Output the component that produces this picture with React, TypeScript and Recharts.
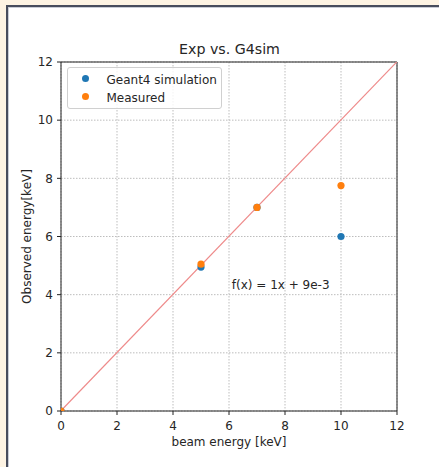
import {
  ScatterChart,
  Scatter,
  XAxis,
  YAxis,
  CartesianGrid,
  ReferenceLine,
  ReferenceArea,
  ReferenceDot,
  Legend,
} from "recharts";

// beam energy [keV] vs observed energy [keV]
const BEAM_ENERGY = [0, 5, 7, 10];
const G4SIM = [0, 4.95, 7.0, 6.0];
const MEASURED = [0, 5.05, 7.0, 7.75];
const TICKS = [0, 2, 4, 6, 8, 10, 12];
const FIT_X = [0, 12];
const FIT_Y = [0.009, 12.009];
const FIT_TEXT = "f(x) = 1x + 9e-3";
const FIT_TEXT_POS = { x: 6.1, y: 4.2 };

const FONT = "'DejaVu Sans', sans-serif";
const TEXT_COLOR = "#262626";

const g4Data = BEAM_ENERGY.map((x, i) => ({ x, y: G4SIM[i] }));
const measuredData = BEAM_ENERGY.map((x, i) => ({ x, y: MEASURED[i] }));

function Marker(props: any) {
  const { cx, cy, fill } = props;
  if (cx == null || cy == null) return null;
  return <circle cx={cx} cy={cy} r={3.6} fill={fill} />;
}

function XTitle(props: any) {
  const vb = props.viewBox || { x: 61, y: 411, width: 336, height: 30 };
  return (
    <text
      x={vb.x + vb.width / 2}
      y={vb.y + 35}
      textAnchor="middle"
      fontSize={12}
      fontFamily={FONT}
      fill={TEXT_COLOR}
    >
      beam energy [keV]
    </text>
  );
}

function YTitle(props: any) {
  const vb = props.viewBox || { x: 21, y: 62, width: 40, height: 349 };
  const x = vb.x + 10;
  const y = vb.y + vb.height / 2;
  return (
    <text
      x={x}
      y={y}
      transform={`rotate(-90, ${x}, ${y})`}
      textAnchor="middle"
      fontSize={12}
      fontFamily={FONT}
      fill={TEXT_COLOR}
    >
      Observed energy[keV]
    </text>
  );
}

function FitLabel(props: any) {
  const vb = props.viewBox || { x: 0, y: 0 };
  return (
    <text x={vb.x} y={vb.y} fontSize={12} fontFamily={FONT} fill={TEXT_COLOR}>
      {FIT_TEXT}
    </text>
  );
}

function LegendBox(props: any) {
  const payload = props.payload || [];
  return (
    <div
      style={{
        position: "relative",
        width: 155,
        height: 42,
        boxSizing: "border-box",
        border: "1px solid #d0d0d0",
        borderRadius: 3,
        background: "rgba(255,255,255,0.8)",
        fontFamily: FONT,
        fontSize: 12,
        color: TEXT_COLOR,
      }}
    >
      {payload.map((p: any, i: number) => (
        <div key={p.value}>
          <span
            style={{
              position: "absolute",
              left: 14,
              top: 6.5 + i * 18.4,
              width: 7,
              height: 7,
              borderRadius: "50%",
              background: p.color,
            }}
          />
          <span
            style={{
              position: "absolute",
              left: 38.5,
              top: 2.5 + i * 18.4,
              lineHeight: "18px",
              whiteSpace: "nowrap",
            }}
          >
            {p.value}
          </span>
        </div>
      ))}
    </div>
  );
}

export default function App() {
  return (
    <div
      style={{
        position: "absolute",
        left: 0,
        top: 0,
        width: 439,
        height: 467,
        background: "#fdf3e3",
        overflow: "hidden",
      }}
    >
      <div
        style={{
          position: "absolute",
          left: 6,
          top: 5,
          right: 0,
          bottom: 0,
          background: "#fff",
          borderLeft: "2px solid #474c5c",
          borderTop: "2px solid #474c5c",
          boxShadow: "inset 1px 1px 0 #c9ccd6",
        }}
      />
      <div
        style={{
          position: "absolute",
          left: 0,
          top: 42,
          width: 459,
          textAlign: "center",
          fontFamily: FONT,
          fontSize: 14.2,
          lineHeight: 1,
          color: TEXT_COLOR,
        }}
      >
        Exp vs. G4sim
      </div>
      <div style={{ position: "absolute", left: 0, top: 0 }}>
        <ScatterChart
          width={439}
          height={467}
          margin={{ top: 62, right: 42, bottom: 26, left: 21 }}
        >
          <CartesianGrid stroke="#bdbdbd" strokeDasharray="1.5 1.5" />
          <XAxis
            type="number"
            dataKey="x"
            domain={[0, 12]}
            ticks={TICKS}
            allowDataOverflow
            height={30}
            axisLine={false}
            tickLine={{ stroke: "#222" }}
            tickSize={4}
            tickMargin={6}
            tick={{ fontSize: 12, fontFamily: FONT, fill: TEXT_COLOR }}
            label={<XTitle />}
          />
          <YAxis
            type="number"
            dataKey="y"
            domain={[0, 12]}
            ticks={TICKS}
            allowDataOverflow
            width={40}
            axisLine={false}
            tickLine={{ stroke: "#222" }}
            tickSize={4}
            tickMargin={4}
            tick={{ fontSize: 12, fontFamily: FONT, fill: TEXT_COLOR }}
            label={<YTitle />}
          />
          <ReferenceLine
            segment={[
              { x: FIT_X[0], y: FIT_Y[0] },
              { x: FIT_X[1], y: FIT_Y[1] },
            ]}
            ifOverflow="hidden"
            stroke="#ee8a8a"
            strokeWidth={1.2}
          />
          <Scatter
            name="Geant4 simulation"
            data={g4Data}
            fill="#1f77b4"
            shape={Marker}
            isAnimationActive={false}
          />
          <Scatter
            name="Measured"
            data={measuredData}
            fill="#ff7f0e"
            shape={Marker}
            isAnimationActive={false}
          />
          <ReferenceDot
            x={FIT_TEXT_POS.x}
            y={FIT_TEXT_POS.y}
            r={0}
            fill="none"
            stroke="none"
            label={<FitLabel />}
          />
          <ReferenceArea
            x1={0}
            x2={12}
            y1={0}
            y2={12}
            fill="none"
            stroke="#222"
            strokeWidth={1}
            fillOpacity={0}
          />
          <Legend
            layout="vertical"
            align="center"
            verticalAlign="middle"
            content={<LegendBox />}
            wrapperStyle={{ top: 67, left: 67, width: 155, height: 42 }}
          />
        </ScatterChart>
      </div>
    </div>
  );
}
